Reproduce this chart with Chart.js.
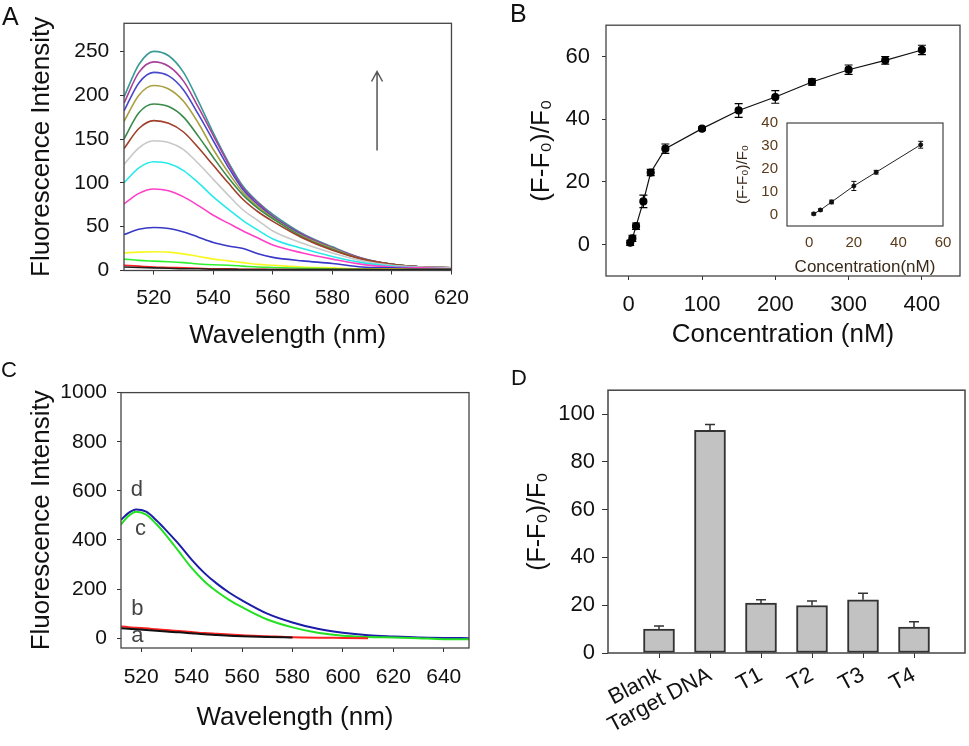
<!DOCTYPE html>
<html>
<head>
<meta charset="utf-8">
<script src="https://cdn.jsdelivr.net/npm/chart.js@4.4.0/dist/chart.umd.min.js"></script>
<style>
  html, body { margin: 0; padding: 0; background: #fff; }
  #fig { position: relative; width: 969px; height: 746px; overflow: hidden; font-family: "Liberation Sans", Arial, sans-serif; }
  canvas { position: absolute; }
  .tag { position: absolute; line-height: 1; color: #111; }
</style>
</head>
<body>
<div id="fig">
  <canvas id="chartA" width="480" height="360" style="left:0;top:0"></canvas>
  <canvas id="chartB" width="489" height="360" style="left:480px;top:0"></canvas>
  <canvas id="chartInset" width="235" height="175" style="left:725px;top:105px"></canvas>
  <canvas id="chartC" width="480" height="376" style="left:0;top:370px"></canvas>
  <canvas id="chartD" width="489" height="376" style="left:480px;top:370px"></canvas>
  <div class="tag" style="left:2px;top:4px;font-size:25px">A</div>
  <div class="tag" style="left:510px;top:1px;font-size:25px">B</div>
  <div class="tag" style="left:1px;top:359px;font-size:22px">C</div>
  <div class="tag" style="left:511px;top:367px;font-size:22px">D</div>
</div>
<script>
// ---- panel A: spectra at increasing target concentration ----
const wavelengthsA = [510, 515, 520, 525, 530, 535, 540, 545, 550, 555, 560, 570, 580, 590, 600, 610, 620];
const specA1  = [198, 235, 250, 245, 226, 193, 157, 124, 96, 78, 64, 42, 27, 14, 7, 4, 3];
const specA2  = [191, 226, 238, 233, 216, 186, 154, 122, 94, 77, 62, 41, 26, 14, 7, 4, 3];
const specA3  = [182, 214, 226, 222, 206, 178, 148, 118, 92, 75, 61, 40, 25, 13, 7, 4, 3];
const specA4  = [170, 200, 211, 207, 193, 168, 138, 112, 89, 73, 60, 39, 25, 13, 7, 4, 3];
const specA5  = [150, 180, 190, 187, 175, 153, 129, 106, 86, 71, 59, 38, 24, 13, 7, 4, 3];
const specA6  = [139, 162, 171, 168, 158, 140, 120, 100, 81, 67, 56, 37, 23, 13, 7, 4, 3];
const specA7  = [121, 140, 148, 146, 138, 122, 104, 86, 69, 57, 45, 31, 20, 11, 6, 4, 3];
const specA8  = [100, 117, 124, 122, 114, 100, 84, 70, 57, 46, 36, 25, 16, 9, 5, 3, 2];
const specA9  = [76, 88, 93, 91, 84, 74, 63, 54, 45, 37, 29, 20, 13, 7, 4, 3, 2];
const specA10 = [41, 47, 49, 48, 44, 38, 32, 28, 25, 19, 15, 11, 8, 4, 3, 2, 2];
const specA11 = [20, 21, 21.4, 21, 19, 16, 13, 11, 9, 7, 6, 4, 3, 2, 2, 1, 1];
const specA12 = [13, 11.5, 10.7, 10, 9, 7.5, 6.5, 6, 5, 4, 3.5, 2.5, 2, 1.5, 1, 1, 1];
const specA13 = [6, 5, 4, 3.5, 3, 2.5, 2, 2, 1.5, 1.5, 1, 1, 1, 1, 1, 1, 1];
const specA14 = [4, 3.5, 3, 2.5, 2, 2, 1.5, 1.5, 1, 1, 1, 1, 1, 1, 1, 1, 1];
const spectraA = [specA1, specA2, specA3, specA4, specA5, specA6, specA7, specA8, specA9, specA10, specA11, specA12, specA13, specA14];
const colorsA = ['#3a9a96', '#a8409a', '#4848cc', '#a8a040', '#3a8a4a', '#a0402a', '#c8c8c8',
                 '#28eaea', '#ff40c8', '#3838c8', '#f8f820', '#30f030', '#ff2020', '#202020'];
const xTicksA = [520, 540, 560, 580, 600, 620];
const yTicksA = [0, 50, 100, 150, 200, 250];
const arrowA = { x: 595, from: 137, to: 227 };

// ---- panel B: calibration curve ----
const concB = [2, 5, 10, 20, 30, 50, 100, 150, 200, 250, 300, 350, 400];
const ratioB = [0.6, 2.0, 5.9, 13.8, 23, 30.6, 37.0, 42.8, 47.1, 51.9, 55.8, 58.8, 62.1];
const errB = [0.8, 1.0, 1.0, 2.0, 1.0, 1.5, 0.5, 2.2, 2.0, 1.0, 1.5, 1.2, 1.5];
const xTicksB = [0, 100, 200, 300, 400];
const yTicksB = [0, 20, 40, 60];

// inset of B: linear range
const concInset = [2, 5, 10, 20, 30, 50];
const ratioInset = [0.3, 2.0, 5.5, 12.5, 18.5, 30.5];
const errInset = [0.5, 0.5, 0.8, 2.0, 0.8, 1.5];
const xTicksInset = [0, 20, 40, 60];
const yTicksInset = [0, 10, 20, 30, 40];

// ---- panel C: control spectra a-d ----
const wavelengthsC = [512, 515, 518, 522, 526, 530, 535, 540, 545, 550, 555, 560, 570, 580, 590, 600, 610, 620, 630, 640, 650];
const specCd = [482, 510, 524, 515, 480, 438, 382, 320, 266, 222, 185, 154, 100, 64, 38, 22, 12, 7, 3, 1, 0];
const specCc = [463, 498, 515, 503, 465, 418, 352, 286, 232, 190, 155, 126, 76, 44, 22, 10, 5, 3, 0, -4, -4];
const specCb = [48, 45, 42, 40, 36, 33, 29, 25, 21, 18, 15, 12, 8, 4, 2, 1, 0, null, null, null, null];
const specCa = [40, 38, 36, 33, 30, 27, 24, 20, 16, 13, 10, 8, 5, 3, null, null, null, null, null, null, null];
const xTicksC = [520, 540, 560, 580, 600, 620, 640];
const yTicksC = [0, 200, 400, 600, 800, 1000];
const curveTagsC = [
  { text: 'd', x: 518.3, y: 604 },
  { text: 'c', x: 519.7, y: 446 },
  { text: 'b', x: 518.5, y: 121 },
  { text: 'a', x: 518.5, y: 11 }
];

// ---- panel D: selectivity ----
const samplesD = ['Blank', 'Target DNA', 'T1', 'T2', 'T3', 'T4'];
const ratioD = [10.0, 93.2, 20.9, 19.9, 22.3, 10.9];
const errD = [1.3, 2.4, 1.4, 1.9, 2.7, 2.2];
const yTicksD = [0, 20, 40, 60, 80, 100];

const FONT = '"Liberation Sans", Arial, sans-serif';
Chart.defaults.font.family = FONT;
Chart.defaults.color = '#111';

// box around the plot area
const framePlugin = {
  id: 'frame',
  afterDraw(chart, args, opts) {
    const { ctx, chartArea: a } = chart;
    ctx.save();
    ctx.strokeStyle = opts.color || '#444';
    ctx.lineWidth = opts.width || 1.3;
    ctx.strokeRect(a.left, a.top, a.right - a.left, a.bottom - a.top);
    ctx.restore();
  }
};

// error bars from a dataset's "errors" array
const errorBarPlugin = {
  id: 'errorBars',
  afterDatasetsDraw(chart, args, opts) {
    const { ctx } = chart;
    chart.data.datasets.forEach((ds, di) => {
      if (!ds.errors) return;
      const meta = chart.getDatasetMeta(di);
      const yScale = chart.scales[meta.yAxisID];
      ctx.save();
      ctx.strokeStyle = opts.color || '#000';
      ctx.lineWidth = opts.width || 1;
      meta.data.forEach((el, i) => {
        const raw = ds.data[i];
        if (raw === null || raw === undefined) return;
        const v = typeof raw === 'object' ? raw.y : raw;
        const e = ds.errors[i];
        const x = el.x;
        const hi = yScale.getPixelForValue(v + e);
        const lo = yScale.getPixelForValue(opts.upOnly ? v : v - e);
        ctx.beginPath();
        ctx.moveTo(x, lo); ctx.lineTo(x, hi);
        ctx.moveTo(x - opts.cap, hi); ctx.lineTo(x + opts.cap, hi);
        if (!opts.upOnly) { ctx.moveTo(x - opts.cap, lo); ctx.lineTo(x + opts.cap, lo); }
        ctx.stroke();
      });
      ctx.restore();
    });
  }
};

const arrowPlugin = {
  id: 'arrow',
  afterDatasetsDraw(chart, args, opts) {
    if (!opts.x) return;
    const { ctx, scales: { x, y } } = chart;
    const px = x.getPixelForValue(opts.x);
    const y0 = y.getPixelForValue(opts.from);
    const y1 = y.getPixelForValue(opts.to);
    ctx.save();
    ctx.strokeStyle = '#555';
    ctx.lineWidth = 1.5;
    ctx.beginPath();
    ctx.moveTo(px, y0); ctx.lineTo(px, y1);
    ctx.moveTo(px - 5.5, y1 + 10); ctx.lineTo(px, y1); ctx.lineTo(px + 5.5, y1 + 10);
    ctx.stroke();
    ctx.restore();
  }
};

const tagPlugin = {
  id: 'tags',
  afterDatasetsDraw(chart, args, opts) {
    if (!opts.items) return;
    const { ctx, scales: { x, y } } = chart;
    ctx.save();
    ctx.fillStyle = '#444';
    ctx.font = '22px ' + FONT;
    ctx.textAlign = 'center';
    ctx.textBaseline = 'middle';
    opts.items.forEach(t => ctx.fillText(t.text, x.getPixelForValue(t.x), y.getPixelForValue(t.y)));
    ctx.restore();
  }
};

function makeAxis(o) {
  const ticks = {
    autoSkip: false,
    padding: o.pad,
    font: { size: o.font },
    color: o.color || '#111',
    maxRotation: o.rot || 0,
    minRotation: o.rot || 0
  };
  if (o.type !== 'category') ticks.callback = v => String(v);
  return {
    type: o.type || 'linear',
    min: o.min,
    max: o.max,
    offset: false,
    afterFit: s => { if (s.isHorizontal()) s.height = o.size; else s.width = o.size; },
    afterBuildTicks: s => {
      if (o.ticks) s.ticks = o.ticks.map(v => ({ value: v }));
      if (o.trimEnds) s.ticks = s.ticks.slice(1, -1);
    },
    grid: { display: true, drawOnChartArea: false, drawTicks: o.tl > 0, tickLength: o.tl, color: '#333', lineWidth: 1, offset: false },
    border: { display: false },
    ticks,
    title: { display: true, text: o.title, font: { size: o.titleSize }, color: o.titleColor || '#111', padding: o.titlePad }
  };
}

const baseOptions = (padding) => ({
  responsive: false,
  animation: false,
  devicePixelRatio: 1,
  layout: { padding },
  plugins: { legend: { display: false }, tooltip: { enabled: false } }
});

// ---- A ----
const optsA = baseOptions({ top: 7, right: 14, left: 0, bottom: 0 });
optsA.scales = {
  x: makeAxis({ min: 510, max: 620, ticks: xTicksA, size: 89.5, tl: 4, pad: 11, font: 21,
    title: 'Wavelength (nm)', titleSize: 26, titlePad: { top: 0, bottom: 8.4 } }),
  y: makeAxis({ min: 0, max: 282, ticks: yTicksA, size: 124, tl: 4, pad: 10.7, font: 21,
    title: 'Fluorescence Intensity', titleSize: 26, titlePad: { top: 26.4, bottom: 0 } })
};
optsA.plugins.frame = { color: '#444', width: 1.3 };
optsA.plugins.arrow = arrowA;
new Chart(document.getElementById('chartA'), {
  type: 'line',
  data: {
    datasets: spectraA.map((arr, i) => ({
      data: wavelengthsA.map((w, j) => ({ x: w, y: arr[j] })),
      borderColor: colorsA[i],
      borderWidth: 1.6,
      pointRadius: 0,
      cubicInterpolationMode: 'monotone'
    })).reverse()
  },
  options: optsA,
  plugins: [framePlugin, arrowPlugin]
});

// ---- B ----
const optsB = baseOptions({ top: 8, right: 9, left: 0, bottom: 0 });
optsB.scales = {
  x: makeAxis({ min: -31, max: 452, ticks: xTicksB, size: 84, tl: 4, pad: 11.8, font: 22,
    title: 'Concentration (nM)', titleSize: 26, titlePad: { top: 0, bottom: 9.4 } }),
  y: makeAxis({ min: -10, max: 70, ticks: yTicksB, size: 126, tl: 4, pad: 12, font: 22,
    title: '(F-F\u2080)/F\u2080', titleSize: 26, titlePad: { top: 46.4, bottom: 0 } })
};
optsB.plugins.frame = { color: '#444', width: 1.3 };
optsB.plugins.errorBars = { color: '#000', width: 1.2, cap: 4 };
new Chart(document.getElementById('chartB'), {
  type: 'line',
  data: {
    datasets: [{
      data: concB.map((c, i) => ({ x: c, y: ratioB[i] })),
      errors: errB,
      borderColor: '#111',
      borderWidth: 1.2,
      pointRadius: 3.5,
      pointBackgroundColor: '#000',
      pointBorderColor: '#000',
      tension: 0
    }]
  },
  options: optsB,
  plugins: [framePlugin, errorBarPlugin]
});

// ---- B inset ----
const optsIn = baseOptions({ top: 12, right: 17, left: 0, bottom: 0 });
optsIn.scales = {
  x: makeAxis({ min: -10, max: 60, ticks: xTicksInset, size: 54, tl: 0, pad: 8, font: 15, color: '#5a3a1a',
    title: 'Concentration(nM)', titleSize: 17, titleColor: '#3a2a1a', titlePad: { top: 0, bottom: 2.8 } }),
  y: makeAxis({ min: -5, max: 40, ticks: yTicksInset, size: 62, tl: 0, pad: 9, font: 15, color: '#5a3a1a',
    title: '(F-F\u2080)/F\u2080', titleSize: 15, titleColor: '#3a2a1a', titlePad: { top: 9, bottom: 0 } })
};
optsIn.plugins.frame = { color: '#444', width: 1.2 };
optsIn.plugins.errorBars = { color: '#111', width: 1, cap: 2.5 };
new Chart(document.getElementById('chartInset'), {
  type: 'line',
  data: {
    datasets: [{
      data: concInset.map((c, i) => ({ x: c, y: ratioInset[i] })),
      errors: errInset,
      borderColor: '#222',
      borderWidth: 1,
      pointRadius: 2,
      pointBackgroundColor: '#111',
      pointBorderColor: '#111',
      tension: 0
    }]
  },
  options: optsIn,
  plugins: [framePlugin, errorBarPlugin]
});

// ---- C ----
const optsC = baseOptions({ top: 15, right: 11, left: 0, bottom: 0 });
optsC.scales = {
  x: makeAxis({ min: 512, max: 650, ticks: xTicksC, size: 98, tl: 4, pad: 12.4, font: 21,
    title: 'Wavelength (nm)', titleSize: 26, titlePad: { top: 0, bottom: 12.4 } }),
  y: makeAxis({ min: -40, max: 1000, ticks: yTicksC, size: 121, tl: 4, pad: 10, font: 21,
    title: 'Fluorescence Intensity', titleSize: 26, titlePad: { top: 26.4, bottom: 0 } })
};
optsC.plugins.frame = { color: '#444', width: 1.3 };
optsC.plugins.tags = { items: curveTagsC };
const lineC = (arr, color) => ({
  data: wavelengthsC.map((w, j) => ({ x: w, y: arr[j] })),
  borderColor: color,
  borderWidth: 2,
  pointRadius: 0,
  spanGaps: false,
  cubicInterpolationMode: 'monotone'
});
new Chart(document.getElementById('chartC'), {
  type: 'line',
  data: {
    datasets: [lineC(specCa, '#111'), lineC(specCb, '#ff2020'), lineC(specCc, '#22e022'), lineC(specCd, '#1c1ca8')]
  },
  options: optsC,
  plugins: [framePlugin, tagPlugin]
});

// ---- D ----
const optsD = baseOptions({ top: 14, right: 4, left: 0, bottom: 0 });
optsD.scales = {
  x: makeAxis({ type: 'category', trimEnds: true, size: 93, tl: 5, pad: 4, font: 22, rot: 28,
    title: '', titleSize: 10, titlePad: 0 }),
  y: makeAxis({ min: 0, max: 110, ticks: yTicksD, size: 128, tl: 6, pad: 7, font: 22,
    title: '(F-F\u2080)/F\u2080', titleSize: 25, titlePad: { top: 43, bottom: 0 } })
};
optsD.scales.x.title.display = false;
optsD.plugins.frame = { color: '#444', width: 1.5 };
optsD.plugins.errorBars = { color: '#333', width: 1.5, cap: 5, upOnly: true };
new Chart(document.getElementById('chartD'), {
  type: 'bar',
  data: {
    labels: ['', ...samplesD, ''],
    datasets: [{
      data: [null, ...ratioD, null],
      errors: [0, ...errD, 0],
      backgroundColor: '#c2c2c2',
      borderColor: '#333',
      borderWidth: 2,
      borderSkipped: false,
      barThickness: 31
    }]
  },
  options: optsD,
  plugins: [framePlugin, errorBarPlugin]
});
</script>
</body>
</html>
